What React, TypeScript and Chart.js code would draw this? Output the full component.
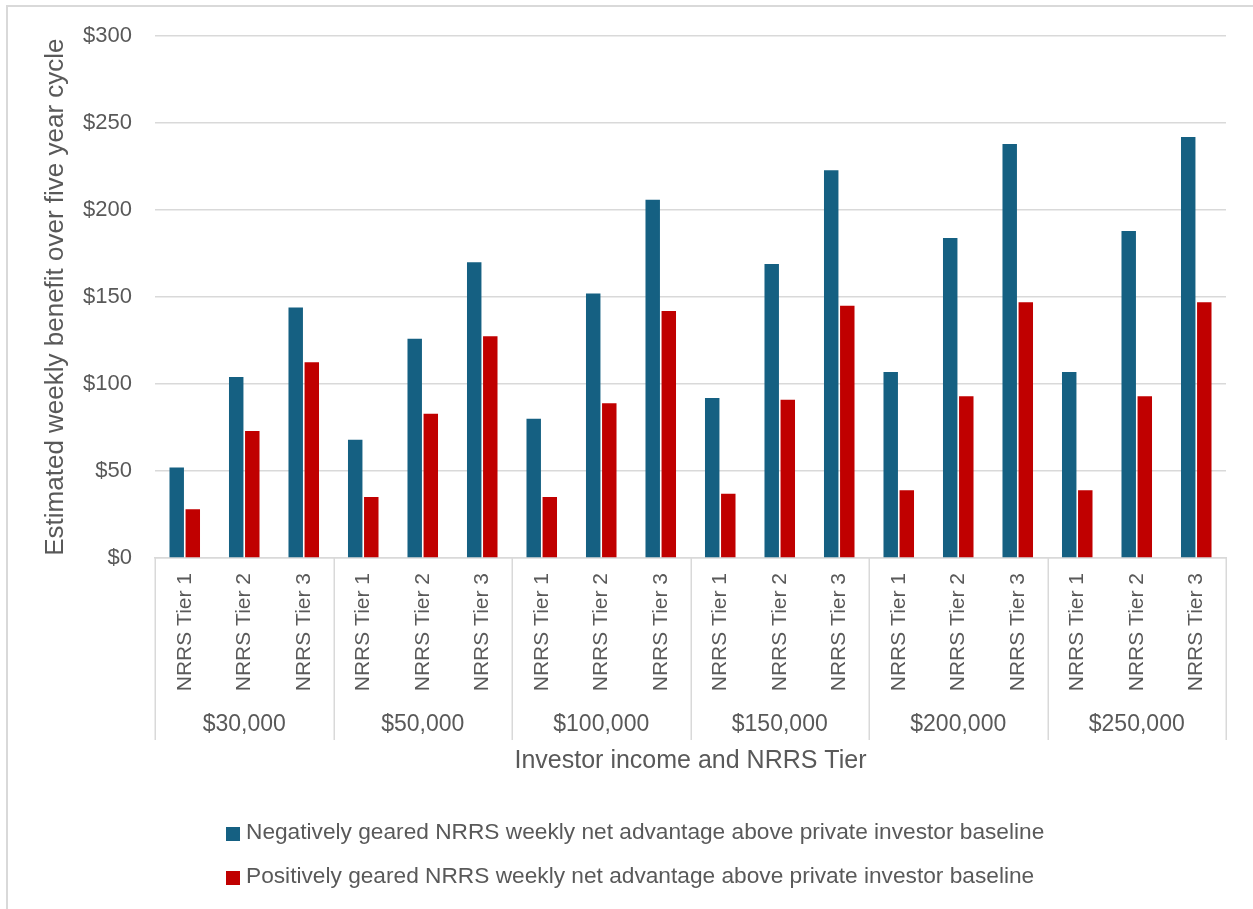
import { useEffect, useRef } from "react";
import { Chart, registerables } from "chart.js";

Chart.register(...registerables);

// Investor income groups and the NRRS tiers shown inside each group
const incomes = ["$30,000", "$50,000", "$100,000", "$150,000", "$200,000", "$250,000"];
const tiers = ["NRRS Tier 1", "NRRS Tier 2", "NRRS Tier 3"];

// Weekly benefit ($) per income/tier, in the same order as the categories
const negativelyGeared = [52, 104, 144, 68, 126, 170, 80, 152, 206, 92, 169, 223, 107, 184, 238, 107, 188, 242];
const positivelyGeared = [28, 73, 112.5, 35, 83, 127.5, 35, 89, 142, 37, 91, 145, 39, 93, 147, 39, 93, 147];

const seriesNames = [
  "Negatively geared NRRS weekly net advantage above private investor baseline",
  "Positively geared NRRS weekly net advantage above private investor baseline",
];
const seriesColors = ["#156082", "#C00000"];

// Value axis ticks
const yTicks = [0, 50, 100, 150, 200, 250, 300];

const FONT = "'Liberation Sans', Arial, Helvetica, sans-serif";
const TEXT = "#595959";
const RULE = "#d9d9d9";

Chart.defaults.font.family = FONT;

// Light frame around the chart object (top and left edges)
const framePlugin = {
  id: "frame",
  beforeDraw(chart: any) {
    const { ctx, width, height } = chart;
    ctx.save();
    ctx.fillStyle = RULE;
    ctx.fillRect(6, 5, width - 6, 2);
    ctx.fillRect(6, 5, 2, height - 5);
    ctx.restore();
  },
};

// Second level of the category axis: income group separators and labels
const groupAxisPlugin = {
  id: "groupAxis",
  afterDraw(chart: any) {
    const { ctx } = chart;
    const x = chart.scales.x;
    const top = x.top;
    const bottom = top + 182;
    const per = tiers.length;
    ctx.save();
    ctx.strokeStyle = RULE;
    ctx.lineWidth = 1.5;
    for (let g = 0; g <= incomes.length; g++) {
      const px = Math.round(x.getPixelForValue(g * per - 0.5)) + 0.25;
      ctx.beginPath();
      ctx.moveTo(px, top);
      ctx.lineTo(px, bottom);
      ctx.stroke();
    }
    ctx.fillStyle = TEXT;
    ctx.font = `23px ${FONT}`;
    ctx.textAlign = "center";
    ctx.textBaseline = "middle";
    incomes.forEach((label, g) => {
      const a = x.getPixelForValue(g * per - 0.5);
      const b = x.getPixelForValue(g * per + per - 0.5);
      ctx.fillText(label, (a + b) / 2, top + 167);
    });
    ctx.restore();
  },
};

// Legend: one series per row, left aligned
const legendPlugin = {
  id: "stackedLegend",
  afterDraw(chart: any) {
    const { ctx } = chart;
    ctx.save();
    chart.data.datasets.forEach((ds: any, i: number) => {
      const rowY = 832.5 + i * 44;
      ctx.fillStyle = ds.backgroundColor;
      ctx.fillRect(226, rowY - 5.5, 14, 14);
      ctx.fillStyle = TEXT;
      ctx.font = `22.7px ${FONT}`;
      ctx.textAlign = "left";
      ctx.textBaseline = "middle";
      ctx.fillText(ds.label, 246, rowY);
    });
    ctx.restore();
  },
};

export default function App() {
  const canvasRef = useRef<HTMLCanvasElement | null>(null);

  useEffect(() => {
    const canvas = canvasRef.current;
    if (!canvas) return;

    const labels = incomes.flatMap(() => tiers);

    const chart = new Chart(canvas, {
      type: "bar",
      data: {
        labels,
        datasets: [
          {
            label: seriesNames[0],
            data: negativelyGeared,
            backgroundColor: seriesColors[0],
            borderWidth: 0,
            categoryPercentage: 0.54,
            barPercentage: 0.9,
          },
          {
            label: seriesNames[1],
            data: positivelyGeared,
            backgroundColor: seriesColors[1],
            borderWidth: 0,
            categoryPercentage: 0.54,
            barPercentage: 0.9,
          },
        ],
      },
      options: {
        responsive: false,
        animation: false,
        layout: { padding: { left: 0, top: 35, right: 27, bottom: 133 } },
        plugins: {
          legend: { display: false },
          tooltip: { enabled: false },
        },
        scales: {
          x: {
            grid: { display: false, drawTicks: false },
            border: { display: true, color: RULE, width: 1.5 },
            ticks: {
              color: TEXT,
              font: { size: 21, family: FONT },
              minRotation: 90,
              maxRotation: 90,
              padding: 15,
              autoSkip: false,
            },
            title: {
              display: true,
              text: "Investor income and NRRS Tier",
              color: TEXT,
              font: { size: 25, family: FONT },
              padding: { top: 0, bottom: 0 },
            },
            afterFit(scale: any) {
              scale.height = 218;
            },
          },
          y: {
            min: yTicks[0],
            max: yTicks[yTicks.length - 1],
            ticks: {
              stepSize: yTicks[1] - yTicks[0],
              color: TEXT,
              font: { size: 22, family: FONT },
              padding: 23,
              callback: (v: any) => `$${v}`,
            },
            grid: { color: RULE, lineWidth: 1.5, drawTicks: false },
            border: { display: false },
            title: {
              display: true,
              text: "Estimated weekly benefit over five year cycle",
              color: TEXT,
              font: { size: 26, family: FONT },
              padding: { top: 40, bottom: 0 },
            },
            afterFit(scale: any) {
              scale.width = 155;
            },
          },
        },
      } as any,
      plugins: [framePlugin, groupAxisPlugin, legendPlugin],
    });

    return () => chart.destroy();
  }, []);

  return (
    <div style={{ position: "absolute", left: 0, top: 0, width: 1253, height: 909, background: "#ffffff" }}>
      <canvas ref={canvasRef} width={1253} height={909} style={{ display: "block" }} />
    </div>
  );
}
